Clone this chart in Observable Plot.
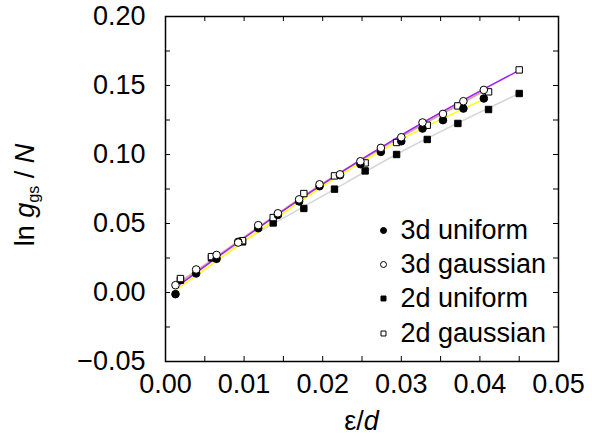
<!DOCTYPE html>
<html><head><meta charset="utf-8">
<script src="https://cdn.jsdelivr.net/npm/d3@7"></script>
<script src="https://cdn.jsdelivr.net/npm/@observablehq/plot@0.6"></script>
<style>body{margin:0;background:#fff;} svg{display:block}</style>
</head><body><div id="chart"></div>
<script>
// ---- data ----
const x3d = [0.00127, 0.0039, 0.0065, 0.00925, 0.0118, 0.0143, 0.0170, 0.0196, 0.0222, 0.0248, 0.0274, 0.0300, 0.0327, 0.0353, 0.0379, 0.0405];
const uniform3d = [-0.0012, 0.0138, 0.0244, 0.0367, 0.0466, 0.0562, 0.0660, 0.0770, 0.0850, 0.0930, 0.1019, 0.1096, 0.1188, 0.1249, 0.1333, 0.1406];
const gaussian3d = [0.0053, 0.0167, 0.0272, 0.0362, 0.0488, 0.0574, 0.0675, 0.0784, 0.0856, 0.0951, 0.1048, 0.1125, 0.1232, 0.1294, 0.1386, 0.1468];
const x2d = [0.0019, 0.00585, 0.0098, 0.0137, 0.0176, 0.0215, 0.0254, 0.0294, 0.0333, 0.0372, 0.0411, 0.0450];
const uniform2d = [0.0089, 0.0251, 0.0367, 0.0504, 0.0609, 0.0749, 0.0881, 0.1000, 0.1109, 0.1225, 0.1326, 0.1442];
const gaussian2d = [0.0101, 0.0260, 0.0375, 0.0543, 0.0717, 0.0845, 0.0939, 0.1087, 0.1212, 0.1352, 0.1454, 0.1613];

// fit curves (knots)
const fitX3 = [0.0013, 0.010, 0.020, 0.030, 0.0405];
const fitUniform3d = [0.0018, 0.037, 0.077, 0.111, 0.140];
const fitGaussian3d = [0.0050, 0.040, 0.079, 0.113, 0.146];
const fitX2 = [0.0019, 0.010, 0.020, 0.030, 0.045];
const fitUniform2d = [0.0085, 0.0375, 0.070, 0.102, 0.1442];
const fitGaussian2d = [0.0060, 0.0395, 0.0785, 0.114, 0.161];

const xTicks = [0, 0.01, 0.02, 0.03, 0.04, 0.05];
const xMinor = d3.range(0, 0.0501, 0.005);
const yTicks = [-0.05, 0, 0.05, 0.10, 0.15, 0.20];
const yMinor = d3.range(-0.05, 0.2001, 0.025);
const legendLabels = ["3d uniform", "3d gaussian", "2d uniform", "2d gaussian"];

// ---- layout ----
const W = 592, H = 441, mL = 165, mR = 34, mT = 16, mB = 80;
const fw = W - mL - mR, fh = H - mT - mB;
const FONT = "'Liberation Sans', Arial, Helvetica, sans-serif";
const FS = 27;
const TL = 5;

const pts = (xs, ys) => xs.map((x, i) => ({x, y: ys[i]}));
const fmt = v => (v < 0 ? "\u2212" : "") + Math.abs(v).toFixed(2);

const styles = [
  {fill: "black", stroke: "black", symbol: "circle"},
  {fill: "white", stroke: "black", symbol: "circle"},
  {fill: "black", stroke: "black", symbol: "square"},
  {fill: "white", stroke: "black", symbol: "square"}
];

const marks = [
  // inward ticks on all four sides
  Plot.tickX(xMinor, {x: d => d, insetTop: fh - TL, stroke: "black", strokeWidth: 1}),
  Plot.tickX(xMinor, {x: d => d, insetBottom: fh - TL, stroke: "black", strokeWidth: 1}),
  Plot.tickY(yMinor, {y: d => d, insetRight: fw - TL, stroke: "black", strokeWidth: 1}),
  Plot.tickY(yMinor, {y: d => d, insetLeft: fw - TL, stroke: "black", strokeWidth: 1}),
  Plot.axisX({ticks: xTicks, tickSize: 0, tickPadding: 12, tickFormat: fmt, label: null, fontSize: FS, fill: "black"}),
  Plot.axisY({ticks: yTicks, tickSize: 0, tickPadding: 20, tickFormat: fmt, label: null, fontSize: FS, fill: "black"}),
  // fit lines
  Plot.line(pts(fitX2, fitUniform2d), {x: "x", y: "y", stroke: "#d6d6d6", strokeWidth: 1.5, curve: "monotone-x"}),
  Plot.line(pts(fitX3, fitUniform3d), {x: "x", y: "y", stroke: "#ffff00", strokeWidth: 1.5, curve: "monotone-x"}),
  Plot.line(pts(fitX3, fitGaussian3d), {x: "x", y: "y", stroke: "#d8a8a8", strokeWidth: 2, curve: "monotone-x"}),
  Plot.line(pts(fitX2, fitGaussian2d), {x: "x", y: "y", stroke: "#a020f0", strokeWidth: 1.5, curve: "monotone-x"}),
  // points
  Plot.dot(pts(x2d, uniform2d), {x: "x", y: "y", r: 3.6, symbol: "square", fill: "black", stroke: "black", strokeWidth: 1}),
  Plot.dot(pts(x2d, gaussian2d), {x: "x", y: "y", r: 3.6, symbol: "square", fill: "white", stroke: "black", strokeWidth: 1}),
  Plot.dot(pts(x3d, uniform3d), {x: "x", y: "y", r: 3.8, fill: "black", stroke: "black", strokeWidth: 1}),
  Plot.dot(pts(x3d, gaussian3d), {x: "x", y: "y", r: 3.8, fill: "white", stroke: "black", strokeWidth: 1}),
  Plot.frame({stroke: "black", strokeWidth: 1.5})
];

// legend inside the frame (bottom-right)
const legendRows = [-131, -97, -63, -28];
legendLabels.forEach((lab, i) => {
  const s = styles[i];
  marks.push(Plot.dot([lab], {frameAnchor: "bottom-right", dx: -175, dy: legendRows[i], r: s.symbol === "square" ? 2.8 : 3, symbol: s.symbol, fill: s.fill, stroke: s.stroke, strokeWidth: 1}));
  marks.push(Plot.text([lab], {text: d => d, frameAnchor: "bottom-right", dx: -158, dy: legendRows[i], textAnchor: "start", lineAnchor: "middle", fontSize: FS, fill: "black"}));
});

const svg = Plot.plot({
  width: W, height: H,
  marginLeft: mL, marginRight: mR, marginTop: mT, marginBottom: mB,
  style: {fontFamily: FONT, fontSize: FS + "px", background: "white", color: "black", overflow: "visible"},
  x: {domain: [0, 0.05]},
  y: {domain: [-0.05, 0.20]},
  marks
});

const s = d3.select(svg);
// x label: ε/d
const xl = s.append("text")
  .attr("x", mL + fw / 2).attr("y", 430)
  .attr("text-anchor", "middle")
  .attr("font-family", FONT).attr("font-size", FS).attr("fill", "black");
xl.append("tspan").text("\u03b5/");
xl.append("tspan").attr("font-style", "italic").text("d");

// y label: ln g_gs / N
const yl = s.append("text")
  .attr("transform", "translate(34,195) rotate(-90)")
  .attr("text-anchor", "middle")
  .attr("font-family", FONT).attr("font-size", FS).attr("fill", "black");
yl.append("tspan").text("ln ");
yl.append("tspan").attr("font-style", "italic").text("g");
yl.append("tspan").attr("font-size", FS * 0.6).attr("dy", 5).text("gs");
yl.append("tspan").attr("dy", -5).text(" / ");
yl.append("tspan").attr("font-style", "italic").text("N");

document.getElementById("chart").appendChild(svg);
</script>
</body></html>
